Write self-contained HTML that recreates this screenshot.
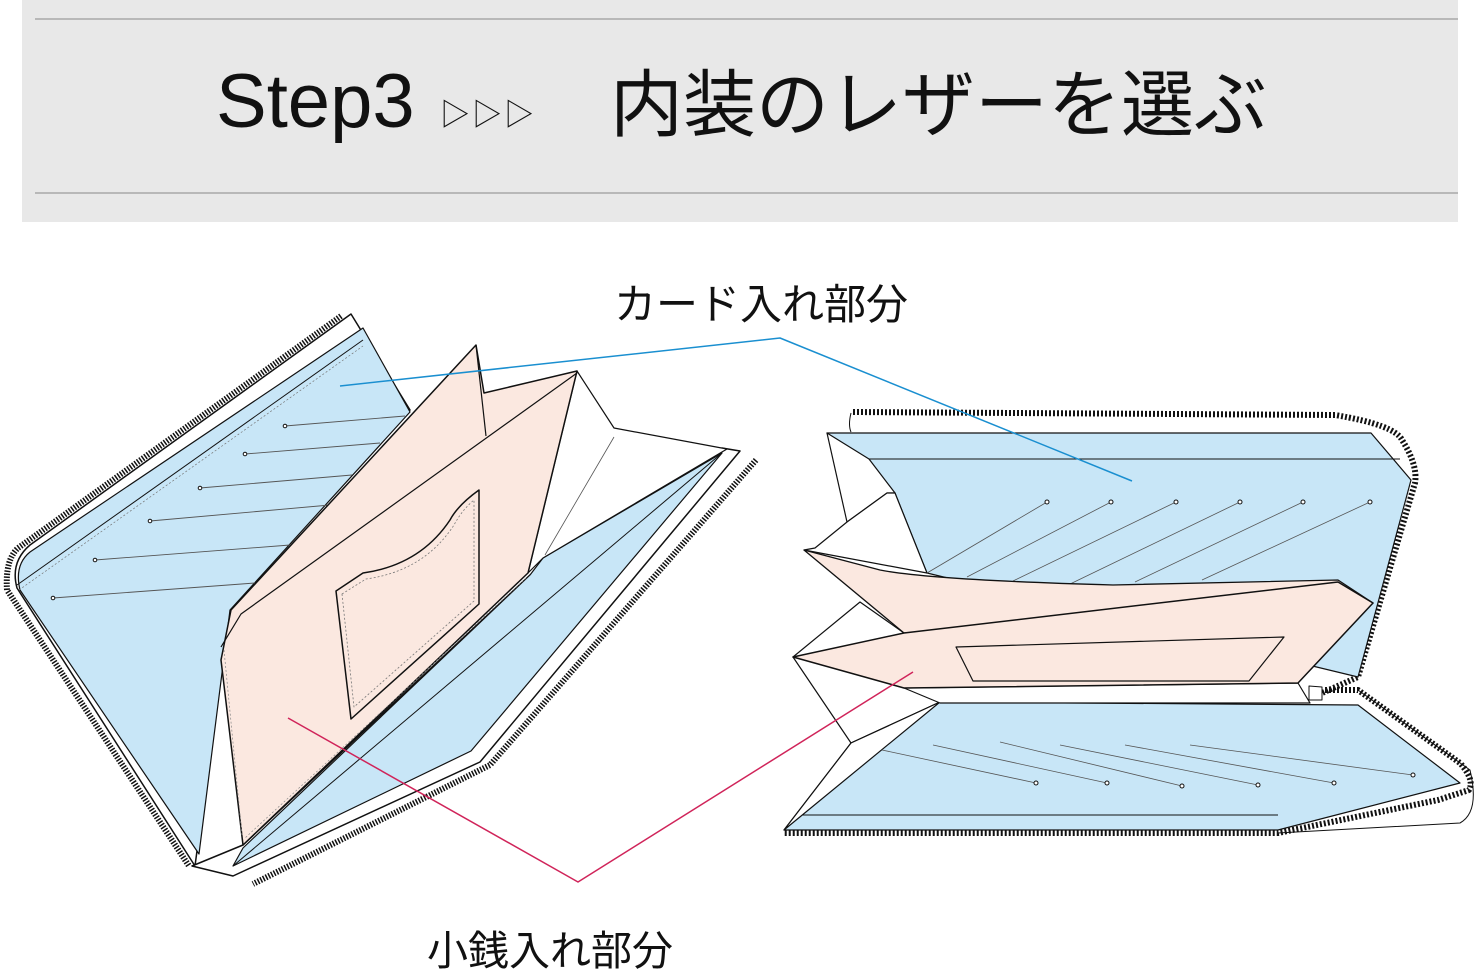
<!DOCTYPE html>
<html><head><meta charset="utf-8">
<style>
html,body{margin:0;padding:0;background:#fff;}
body{width:1479px;height:974px;position:relative;overflow:hidden;font-family:"Liberation Sans","Noto Sans CJK JP",sans-serif;}
.hdr{position:absolute;left:22px;top:0;width:1436px;height:222px;background:#e8e8e8;}
.ln{position:absolute;left:35px;width:1423px;height:2px;background:#b8b8b8;}
.t{position:absolute;white-space:nowrap;color:#111;}
</style></head><body>
<div class="hdr"></div>
<div class="ln" style="top:18px"></div>
<div class="ln" style="top:192px"></div>
<div class="t" style="left:216px;top:58px;font-size:76px;">Step3</div>
<div class="t" style="left:440px;top:90px;font-size:30px;letter-spacing:2px;">▷▷▷</div>
<div class="t" style="left:610px;top:46px;font-size:73px;">内装のレザーを選ぶ</div>
<div class="t" style="left:614px;top:271px;font-size:42px;">カード入れ部分</div>
<div class="t" style="left:427px;top:917px;font-size:41px;">小銭入れ部分</div>
<svg width="1479" height="974" style="position:absolute;left:0;top:0" stroke-linejoin="round">
<!-- LEFT WALLET -->
<path d="M341,316 L18,548 Q5,560 7,590 L189,866" fill="none" stroke="#111" stroke-width="6" stroke-dasharray="1.5 1.5"/>
<path d="M756,460 L490,765 L253,884" fill="none" stroke="#111" stroke-width="6" stroke-dasharray="1.5 1.5"/>
<path d="M351,314 L410,410 L230,600 L195,866 L17,588 Q10,562 30,545 Z" fill="#fff" stroke="#111" stroke-width="1.5"/>
<path d="M363,328 L410,412 L230,610 L199,854 L20,590 Q14,565 30,552 Z" fill="#c8e6f7" stroke="#111" stroke-width="1.2"/>
<line x1="17" y1="585" x2="363" y2="340" stroke="#111" stroke-width="1"/>
<line x1="19" y1="590" x2="363" y2="346" stroke="#777" stroke-width="0.7" stroke-dasharray="2 2"/>
<g stroke="#555" stroke-width="0.9">
<line x1="285" y1="426" x2="405" y2="416"/><line x1="245" y1="454" x2="380" y2="443"/>
<line x1="200" y1="488" x2="352" y2="475"/><line x1="150" y1="521" x2="330" y2="505"/>
<line x1="95" y1="560" x2="290" y2="545"/><line x1="53" y1="598" x2="255" y2="583"/>
</g>
<g fill="#fff" stroke="#111" stroke-width="1"><circle cx="285" cy="426" r="1.8"/><circle cx="245" cy="454" r="1.8"/><circle cx="200" cy="488" r="1.8"/><circle cx="150" cy="521" r="1.8"/><circle cx="95" cy="560" r="1.8"/><circle cx="53" cy="598" r="1.8"/></g>
<path d="M192,866 L233,876 L480,762 L740,451 L722,448 L530,575 L243,845 Z" fill="#fff" stroke="#111" stroke-width="1.5"/>
<polygon points="530,575 543,558 722,453 471,751 233,866 243,848" fill="#c8e6f7" stroke="#111" stroke-width="1.2"/>
<line x1="233" y1="866" x2="722" y2="453" stroke="#111" stroke-width="1"/>
<polygon points="577,371 614,428 727,449 543,558 528,573" fill="#fff" stroke="#111" stroke-width="1.2"/>
<line x1="614" y1="437" x2="545" y2="555" stroke="#555" stroke-width="0.8"/>
<polygon points="221,660 231,610 476,345 484,393 577,371 528,573 243,845" fill="#fbe8e0" stroke="#111" stroke-width="1.5"/>
<polyline points="221,647 241,614 577,373" fill="none" stroke="#111" stroke-width="1.2"/>
<line x1="476" y1="345" x2="486" y2="436" stroke="#111" stroke-width="1.2"/>
<line x1="526" y1="578" x2="245" y2="838" stroke="#888" stroke-width="0.7" stroke-dasharray="2 2"/>
<line x1="224" y1="650" x2="242" y2="835" stroke="#888" stroke-width="0.7" stroke-dasharray="2 2"/>
<path d="M336,591 L363,573 Q420,565 450,520 Q458,505 479,490 L479,604 L351,719 Z" fill="#fbe8e0" stroke="#111" stroke-width="1.5"/>
<path d="M342,594 L366,579 Q424,571 454,525 Q462,510 474,500 L474,601 L354,707 Z" fill="none" stroke="#777" stroke-width="0.8" stroke-dasharray="2 2"/>
<!-- RIGHT WALLET -->
<path d="M851,413 L851,430 L1380,430 L1380,415 Z" fill="#fff"/>
<path d="M853,412 L1335,415 Q1395,425 1402,440 Q1418,465 1415,483 L1358,677 L1322,693" fill="none" stroke="#111" stroke-width="6" stroke-dasharray="2 2"/>
<path d="M1325,690 L1358,690 L1460,763 Q1475,780 1469,790 L1438,800 L1278,833 L784,833" fill="none" stroke="#111" stroke-width="6" stroke-dasharray="2 2"/>
<path d="M851,413 Q848,425 851,432" fill="none" stroke="#111" stroke-width="1"/>
<path d="M1358,690 L1470,770 Q1480,812 1460,823 L1278,833" fill="none" stroke="#111" stroke-width="1"/>
<polygon points="827,433 1371,433 1411,480 1358,677 927,573 895,493" fill="#c8e6f7" stroke="#111" stroke-width="1.2"/>
<line x1="869" y1="459" x2="1400" y2="459" stroke="#111" stroke-width="1"/>
<polygon points="827,433 869,459 895,493 887,493 847,522" fill="#fff" stroke="#111" stroke-width="1.2"/>
<polygon points="887,493 895,493 927,573 804,550 815,548 847,522" fill="#fff" stroke="#111" stroke-width="1.2"/>
<g stroke="#555" stroke-width="0.8">
<line x1="1047" y1="502" x2="927" y2="573"/><line x1="1111" y1="502" x2="967" y2="577"/>
<line x1="1176" y1="502" x2="1013" y2="581"/><line x1="1240" y1="502" x2="1068" y2="585"/>
<line x1="1303" y1="502" x2="1135" y2="582"/><line x1="1370" y1="502" x2="1202" y2="580"/>
</g>
<g fill="#fff" stroke="#111" stroke-width="1"><circle cx="1047" cy="502" r="2"/><circle cx="1111" cy="502" r="2"/><circle cx="1176" cy="502" r="2"/><circle cx="1240" cy="502" r="2"/><circle cx="1303" cy="502" r="2"/><circle cx="1370" cy="502" r="2"/></g>
<polygon points="793,657 860,602 904,633 940,702 851,743" fill="#fff" stroke="#111" stroke-width="1.2"/>
<polygon points="940,702 1358,705 1460,783 1278,830 784,830 851,743" fill="#c8e6f7" stroke="#111" stroke-width="1.2"/>
<polygon points="940,702 851,743 784,830" fill="#fff" stroke="#111" stroke-width="1.2"/>
<line x1="802" y1="815" x2="1278" y2="815" stroke="#111" stroke-width="1"/>
<g stroke="#555" stroke-width="0.8">
<line x1="882" y1="750" x2="1036" y2="783"/><line x1="933" y1="745" x2="1107" y2="783"/>
<line x1="1000" y1="742" x2="1182" y2="786"/><line x1="1060" y1="745" x2="1258" y2="785"/>
<line x1="1125" y1="745" x2="1334" y2="783"/><line x1="1190" y1="745" x2="1413" y2="775"/>
</g>
<g fill="#fff" stroke="#111" stroke-width="1"><circle cx="1036" cy="783" r="2"/><circle cx="1107" cy="783" r="2"/><circle cx="1182" cy="786" r="2"/><circle cx="1258" cy="785" r="2"/><circle cx="1334" cy="783" r="2"/><circle cx="1413" cy="775" r="2"/></g>
<polygon points="904,688 1298,683 1310,703 940,703" fill="#fff" stroke="#111" stroke-width="1.2"/>
<polygon points="1309,686 1322,687 1322,700 1309,700" fill="#fff" stroke="#111" stroke-width="1"/>
<path d="M804,550 L880,570 Q930,580 1113,585 L1338,580 L1373,603 L904,633 Z" fill="#fbe8e0" stroke="#111" stroke-width="1.3"/>
<polygon points="793,657 904,633 1338,582 1373,603 1298,683 904,688" fill="#fbe8e0" stroke="#111" stroke-width="1.5"/>
<polygon points="956,647 1284,637 1249,681 973,681" fill="#fbe8e0" stroke="#111" stroke-width="1.2"/>
<!-- leader lines -->
<polyline points="340,386 780,338 1132,481" fill="none" stroke="#1a8fd0" stroke-width="1.5"/>
<polyline points="288,718 578,882 913,672" fill="none" stroke="#d0245a" stroke-width="1.5"/>
</svg>
</body></html>
